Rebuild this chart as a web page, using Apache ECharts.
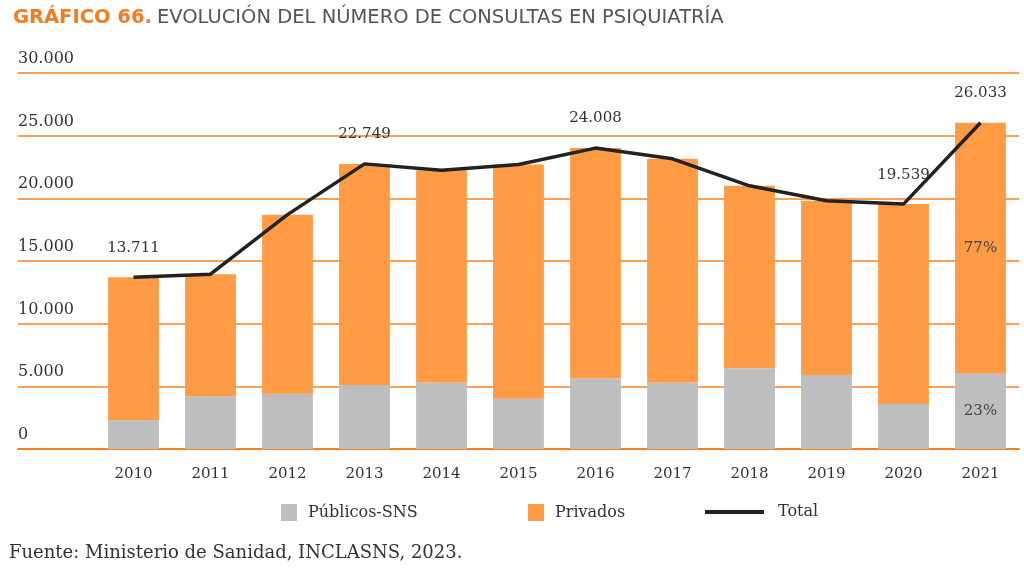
<!DOCTYPE html>
<html>
<head>
<meta charset="utf-8">
<script src="https://cdn.jsdelivr.net/npm/echarts@6/dist/echarts.min.js"></script>
<style>
html,body{margin:0;padding:0;background:#fff;}
#chart{width:1024px;height:576px;}
</style>
</head>
<body>
<div id="chart"></div>
<script>
// ---- data ----
const years = ['2010','2011','2012','2013','2014','2015','2016','2017','2018','2019','2020','2021'];
const publicos = [2300, 4200, 4400, 5100, 5300, 4000, 5650, 5300, 6450, 5900, 3600, 6000];
const privados = [11411, 9750, 14300, 17649, 16950, 18700, 18358, 17850, 14550, 13900, 15939, 20033];
const totals = [13711, 13950, 18700, 22749, 22250, 22700, 24008, 23150, 21000, 19800, 19539, 26033];
const labeledYears = ['2010', '2013', '2016', '2020', '2021'];
const percentYears = ['2021'];
const yTicks = [0, 5000, 10000, 15000, 20000, 25000, 30000];

const ORANGE_LINE = '#F6821F';
const ORANGE_BAR = '#FF9A45';
const GRAY_BAR = '#BDBEC0';
const SERIF = '"DejaVu Serif", serif';
const SANS = '"DejaVu Sans", sans-serif';
const TXT = '#333333';

function fmt(v) { return String(v).replace(/\B(?=(\d{3})+(?!\d))/g, '.'); }

// a leading empty category gives room for the y labels over the gridlines
const cats = [''].concat(years);

function pctItems(vals) {
  return [null].concat(vals.map((v, i) => {
    const show = percentYears.indexOf(years[i]) >= 0;
    return {
      value: v,
      label: show ? {
        show: true, position: 'inside', color: '#444', fontFamily: SERIF, fontSize: 15,
        formatter: () => Math.round(v / totals[i] * 100) + '%'
      } : { show: false }
    };
  }));
}

const totalItems = [null].concat(totals.map((v, i) => ({
  value: v,
  label: { show: labeledYears.indexOf(years[i]) >= 0 }
})));

const chart = echarts.init(document.getElementById('chart'), null, { renderer: 'canvas' });
const legendText = { color: TXT, fontFamily: SERIF, fontSize: 16, padding: [0, 0, 0, 6] };

chart.setOption({
  animation: false,
  backgroundColor: '#ffffff',
  title: [
    {
      left: 8, top: 3,
      text: '{a|GRÁFICO 66.} {b|EVOLUCIÓN DEL NÚMERO DE CONSULTAS EN PSIQUIATRÍA}',
      textStyle: {
        rich: {
          a: { color: '#F47C20', fontFamily: SANS, fontWeight: 'bold', fontSize: 19.5 },
          b: { color: '#555555', fontFamily: SANS, fontWeight: 'normal', fontSize: 19.5 }
        }
      }
    },
    {
      left: 4, top: 539,
      text: 'Fuente: Ministerio de Sanidad, INCLASNS, 2023.',
      textStyle: { color: TXT, fontFamily: SERIF, fontSize: 18, fontWeight: 'normal' }
    }
  ],
  grid: { left: 18, right: 5, top: 73, bottom: 127 },
  legend: [
    { left: 276, top: 499, itemWidth: 16, itemHeight: 17, icon: 'rect', data: ['Públicos-SNS'], textStyle: legendText },
    { left: 523, top: 499, itemWidth: 16, itemHeight: 17, icon: 'rect', data: ['Privados'], textStyle: legendText },
    { left: 700, top: 499, itemWidth: 59, itemHeight: 4, icon: 'rect', data: ['Total'],
      textStyle: Object.assign({}, legendText, { padding: [0, 0, 0, 9] }) }
  ],
  xAxis: {
    type: 'category',
    data: cats,
    axisLine: { lineStyle: { color: ORANGE_LINE, width: 2 } },
    axisTick: { show: false },
    axisLabel: { color: TXT, fontFamily: SERIF, fontSize: 15, margin: 18, interval: 0 }
  },
  yAxis: {
    type: 'value',
    min: yTicks[0], max: yTicks[yTicks.length - 1], interval: yTicks[1] - yTicks[0],
    axisLine: { show: false },
    axisTick: { show: false },
    splitLine: { lineStyle: { color: ORANGE_LINE, width: 1.5 } },
    axisLabel: {
      inside: true, align: 'left', verticalAlign: 'bottom', margin: 0,
      padding: [0, 0, 6, 0],
      color: TXT, fontFamily: SERIF, fontSize: 16,
      formatter: v => fmt(v)
    }
  },
  series: [
    {
      name: 'Públicos-SNS', type: 'bar', stack: 'a', barCategoryGap: '34%',
      itemStyle: { color: GRAY_BAR },
      data: pctItems(publicos)
    },
    {
      name: 'Privados', type: 'bar', stack: 'a', barCategoryGap: '34%',
      itemStyle: { color: ORANGE_BAR },
      data: pctItems(privados)
    },
    {
      name: 'Total', type: 'line', z: 5,
      showSymbol: true, symbol: 'circle', symbolSize: 0,
      lineStyle: { color: '#222222', width: 3.5 },
      itemStyle: { color: '#222222' },
      label: {
        position: 'top', distance: 22, color: TXT, fontFamily: SERIF, fontSize: 15,
        formatter: p => fmt(p.value)
      },
      data: totalItems
    }
  ]
});
</script>
</body>
</html>
